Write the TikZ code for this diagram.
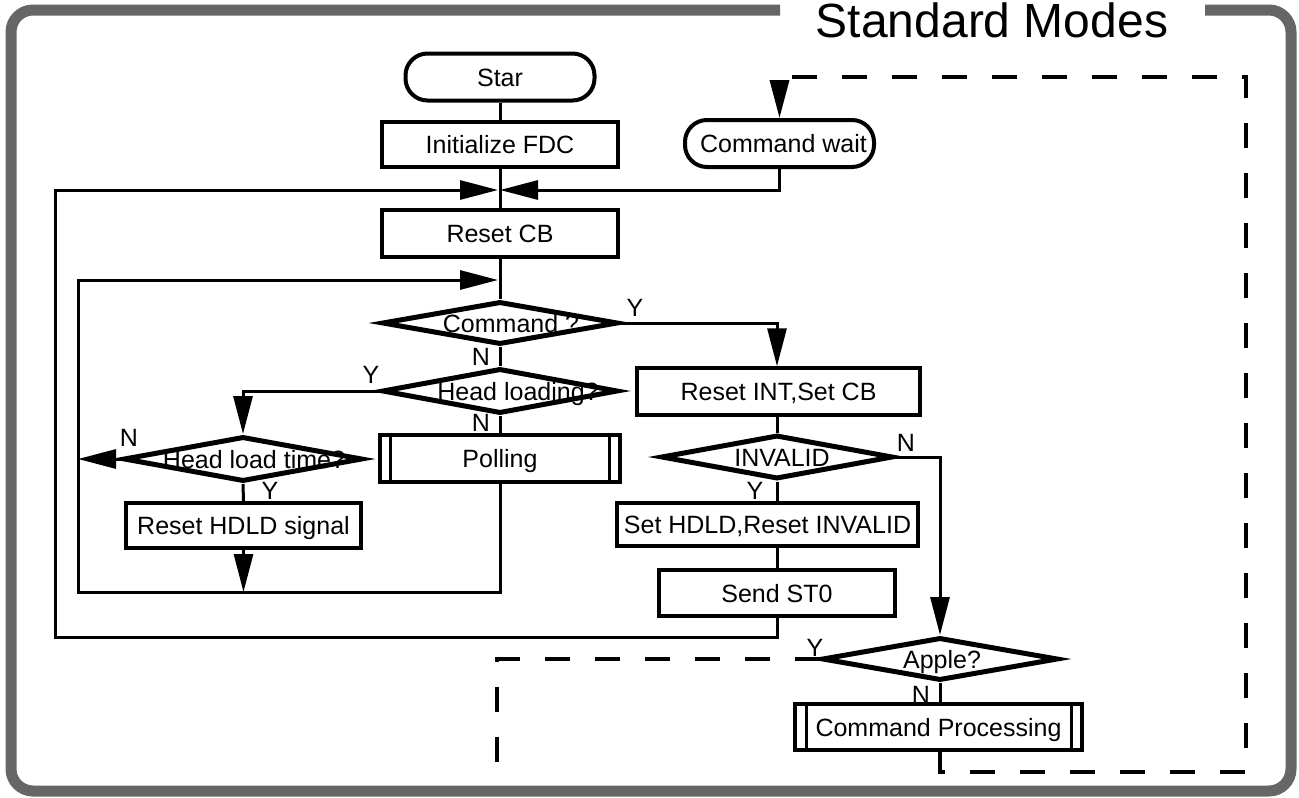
\documentclass[tikz,border=0pt]{standalone}
\usepackage{fontspec}
\setmainfont{Liberation Sans}
\usetikzlibrary{arrows.meta,shapes.geometric}
\begin{document}
\begin{tikzpicture}[x=1pt,y=-1pt,
  every node/.style={font=\fontsize{25}{30}\selectfont},
  ln/.style={line width=3pt},
  box/.style={draw, line width=3.5pt, rectangle, inner sep=0pt, text height=18pt, text depth=0pt},
  term/.style={box, rounded corners=22pt, line width=4pt},
  subbox/.style={box},
  dec/.style={draw, diamond, line width=5pt, inner sep=0pt},
  dlab/.style={text height=18pt, text depth=0pt, inner sep=0pt},
  arr/.style={ln, -{Triangle[length=38pt,width=19pt]}},
  dsh/.style={line width=3.5pt, dash pattern=on 25pt off 25pt},
  yn/.style={inner sep=0pt}
]
\useasboundingbox (0,0) rectangle (1299,798);

% title
\node[font=\fontsize{48}{58}\selectfont, anchor=base, inner sep=0pt] (title) at (992,37) {Standard Modes};

% nodes
\node[term, minimum width=189pt, minimum height=47pt] (star) at (500,77) {Star};
\node[box, minimum width=236pt, minimum height=45pt] (init) at (500,144.5) {Initialize FDC};
\node[term, minimum width=189pt, minimum height=47pt] (cw) at (779.5,143.5) {\hspace*{8pt}Command wait};
\node[box, minimum width=236pt, minimum height=47pt] (rcb) at (500,233.5) {Reset CB};
\node[dec, minimum width=236pt, minimum height=43pt, label={[dlab,xshift=11pt]center:Command ?}] (cmd) at (500,323) {};
\node[dec, minimum width=236pt, minimum height=45pt, label={[dlab,xshift=18pt]center:Head loading?}] (hl) at (500,391) {};
\node[dec, minimum width=239pt, minimum height=45pt, label={[dlab,xshift=11pt]center:Head load time?}] (hlt) at (243,459) {};
\node[subbox, minimum width=240pt, minimum height=47pt] (pol) at (500,458.5) {Polling};
\node[box, minimum width=235pt, minimum height=45pt] (rhd) at (243.5,525.5) {Reset HDLD signal};
\node[box, minimum width=283pt, minimum height=47pt] (rint) at (778.5,391.5) {Reset INT,Set CB};
\node[dec, minimum width=232pt, minimum height=44pt, label={[dlab,xshift=5pt]center:INVALID}] (inv) at (777,457) {};
\node[box, minimum width=301pt, minimum height=43pt] (shd) at (767.5,524.5) {Set HDLD,Reset INVALID};
\node[box, minimum width=236pt, minimum height=46pt] (sst) at (777,593) {Send ST0};
\node[dec, minimum width=236pt, minimum height=43pt, label={[dlab,xshift=2pt]center:Apple?}] (apple) at (940,659) {};
\node[subbox, minimum width=287pt, minimum height=46pt] (cp) at (938.5,727) {Command Processing};

% inner bars of predefined processes
\draw[line width=3pt] ([xshift=12pt]pol.north west) -- ([xshift=12pt]pol.south west);
\draw[line width=3pt] ([xshift=-12pt]pol.north east) -- ([xshift=-12pt]pol.south east);
\draw[line width=3pt] ([xshift=13pt]cp.north west) -- ([xshift=13pt]cp.south west);
\draw[line width=3pt] ([xshift=-12pt]cp.north east) -- ([xshift=-12pt]cp.south east);

% coordinates
\coordinate (j) at (500,190);
\coordinate (j2) at (500,280);
\coordinate (ol) at (55,637);
\coordinate (il) at (78,592);
\coordinate (dl) at (497,659);
\coordinate (dlend) at (497,786);
\coordinate (d1) at (1246,772);
\coordinate (d2) at (1246,77);

% connectors
\draw[ln] (star) -- (init);
\draw[ln] (init) -- (rcb);
\draw[arr] (cw.south) |- (j);
\draw[arr] (sst.south) |- (ol) |- ([xshift=-2pt]j);
\draw[ln] (rcb) -- (cmd);
\draw[arr] (pol.south) |- (il) |- ([xshift=-2pt]j2);
\draw[arr] (cmd.east) -| (rint.north -| inv.north);
\draw[ln] (cmd.south) -- (hl.north);
\draw[arr] (hl.west) -| (hlt.north);
\draw[ln] (hl.south) -- (pol.north);
\draw[arr] (hlt.west) -- (hlt.west -| il);
\draw[ln] (hlt.south) -- (rhd.north);
\draw[arr] (rhd.south) -- (rhd.south |- il);
\draw[ln] (inv.north |- rint.south) -- (inv.north);
\draw[ln] (inv.south) -- (inv.south |- shd.north);
\draw[ln] (sst.north |- shd.south) -- (sst.north);
\draw[arr] (inv.east) -| (apple.north);
\draw[ln] (apple.south) -- (apple.south |- cp.north);

% dashed paths
\draw[dsh] (apple.west) -- (dl) -- (dlend);
\draw[dsh, -{Triangle[length=38pt,width=19pt]}] (apple.south |- cp.south) |- (d1) -- (d2) -| (cw.north);

% labels
\node[yn] (y1) at (635,308) {Y};
\node[yn] (n1) at (481,357) {N};
\node[yn] (y2) at (371,375) {Y};
\node[yn] (n2) at (481,423) {N};
\node[yn] (n3) at (129,438) {N};
\node[yn] (y3) at (270,491) {Y};
\node[yn] (n4) at (906,443) {N};
\node[yn] (y4) at (755,491) {Y};
\node[yn] (y5) at (815,648) {Y};
\node[yn] (n5) at (921,695) {N};

% frame
\draw[line width=11pt, black!60, rounded corners=22pt]
  (780,10) -- (11,10) -- (11,791) -- (1291,791) -- (1291,10) -- (1205,10);
\end{tikzpicture}
\end{document}
